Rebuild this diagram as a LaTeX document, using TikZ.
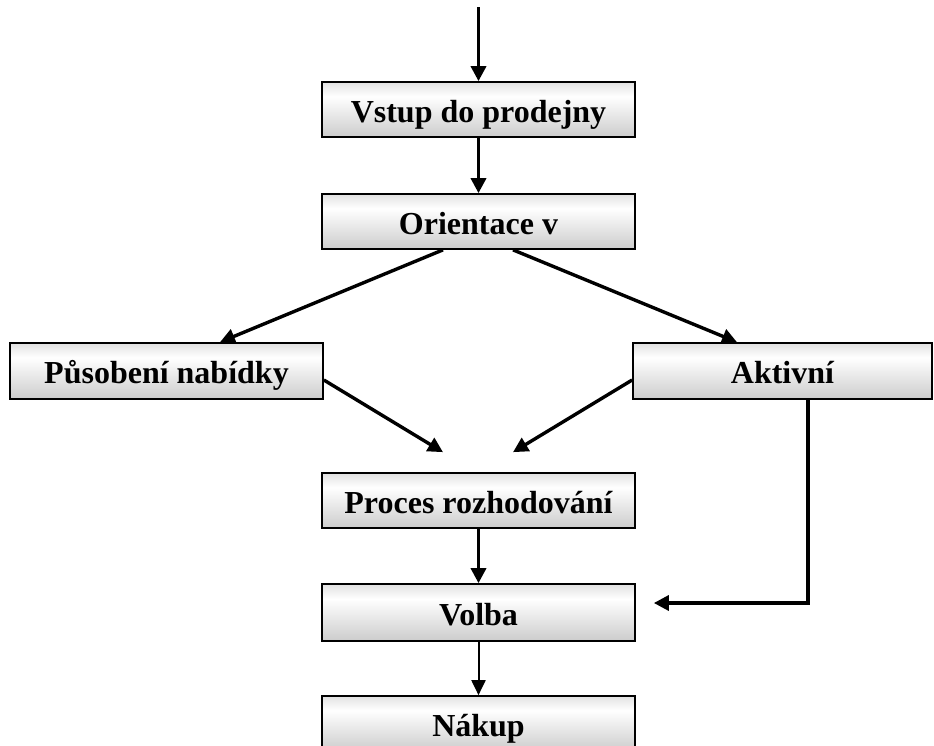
\documentclass[tikz,border=0pt]{standalone}
\usepackage{fontspec}
\setmainfont{Liberation Serif}
\usetikzlibrary{arrows.meta,calc}
\pgfdeclareverticalshading{boxshade}{100bp}{color(0bp)=(black!40); color(25bp)=(black!20); color(62bp)=(white); color(100bp)=(black!34)}
\begin{document}
\begin{tikzpicture}[x=1pt,y=-1pt,
  stepbox/.style={draw=black, line width=1.7pt, shading=boxshade, minimum width=313pt, minimum height=55pt,
    inner sep=0pt, font=\bfseries\fontsize{32}{36}\selectfont, text height=25pt, text depth=0pt},
  arr/.style={line width=3.4pt, -{Triangle[length=15pt,width=15pt]}},
  thinarr/.style={line width=2pt, -{Triangle[length=15pt,width=14pt]}}]
\useasboundingbox (0,0) rectangle (934,745);
\node[stepbox] (vstup) at (478.5,109.5) {Vstup do prodejny};
\node[stepbox] (orient) at (478.5,221.5) {Orientace v};
\node[stepbox, minimum height=56pt] (pusob) at (166.5,371) {Působení nabídky};
\node[stepbox, minimum height=56pt, minimum width=299pt] (aktiv) at (782.5,371) {Aktivní};
\node[stepbox] (proces) at (478.5,500.5) {Proces rozhodování};
\node[stepbox, minimum height=57pt] (volba) at (478.5,612.5) {Volba};
\node[stepbox] (nakup) at (478.5,723.5) {Nákup};
\coordinate (start) at (478.5,7);
\coordinate (vin) at ($(volba.east)+(18,-9.5)$);
\draw[arr] (start) -- (vstup.north);
\draw[arr] (vstup.south) -- (orient.north);
\draw[arr] ($(orient.south)+(-35.5,0)$) -- ($(pusob.north)+(53.5,0)$);
\draw[arr] ($(orient.south)+(34.5,0)$) -- ($(aktiv.north)+(-45.5,0)$);
\draw[arr] ($(pusob.east)+(0,9)$) -- ($(proces.north)+(-35.5,-20)$);
\draw[arr] ($(aktiv.west)+(0,9)$) -- ($(proces.north)+(34.5,-20)$);
\draw[arr] (proces.south) -- (volba.north);
\draw[arr] ($(aktiv.south)+(25.5,0)$) |- (vin);
\draw[thinarr] (volba.south) -- (nakup.north);
\end{tikzpicture}
\end{document}
